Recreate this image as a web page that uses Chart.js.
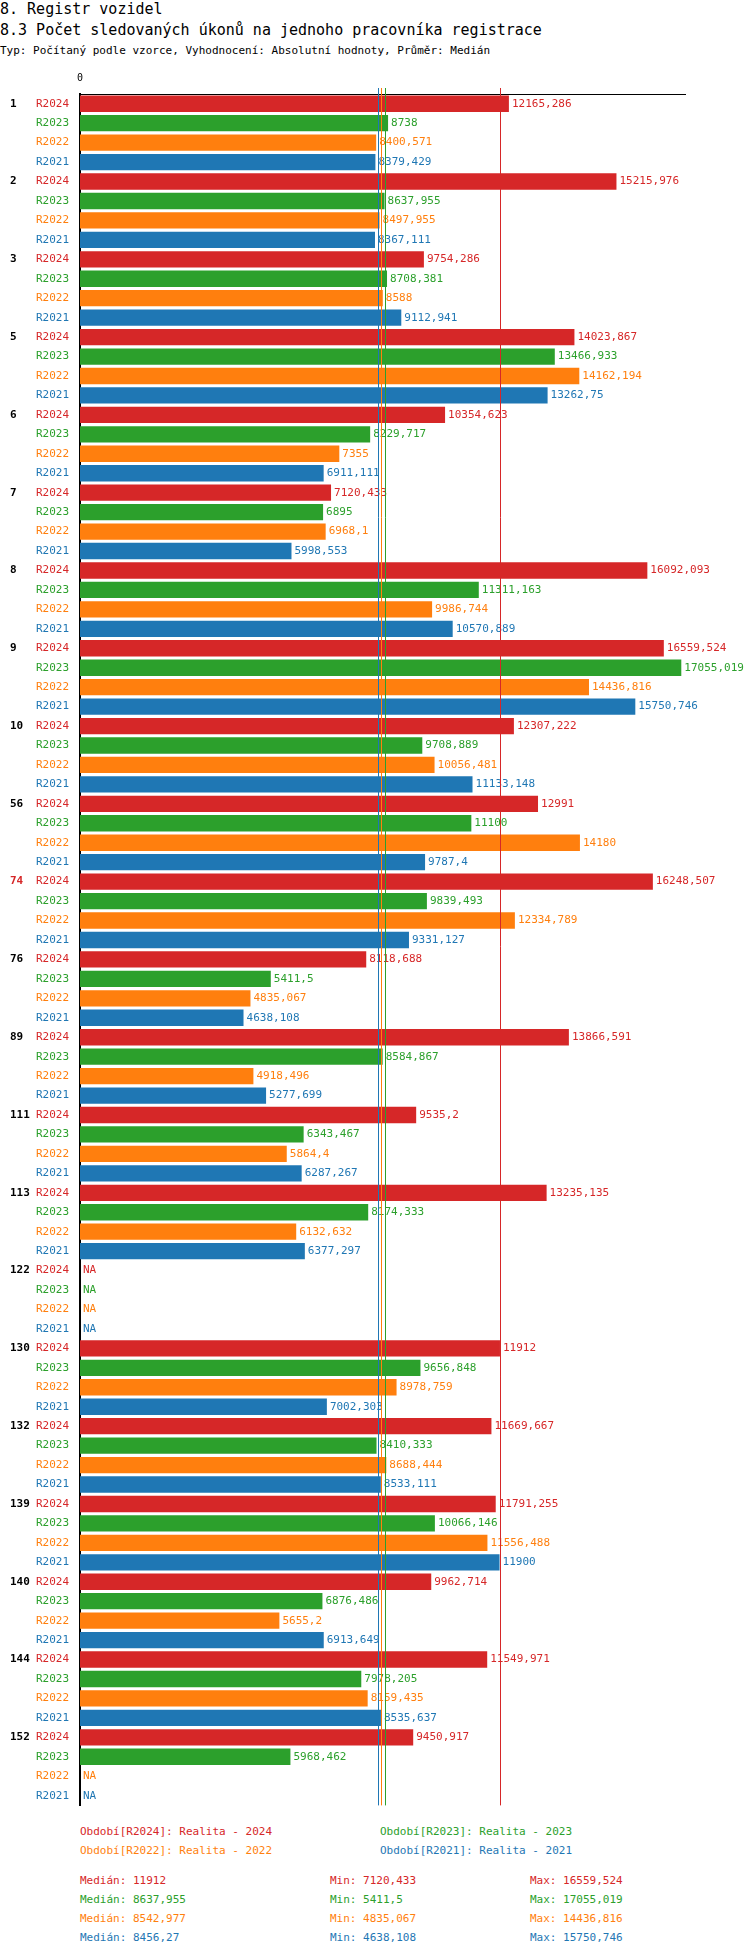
<!DOCTYPE html>
<html>
<head>
<meta charset="utf-8">
<script src="https://cdn.jsdelivr.net/npm/chart.js@4"></script>
<style>
  body { margin: 0; width: 750px; height: 1958px; position: relative; background: #fff; font-family: "DejaVu Sans Mono", monospace; }
  .t { position: absolute; left: 0; white-space: nowrap; color: #000; }
  .f { position: absolute; font-size: 11px; white-space: nowrap; }
  #wrap { position: absolute; left: 0; top: 70px; width: 750px; height: 1745px; }
</style>
</head>
<body>
<div class="t" style="top:0px;font-size:15px">8. Registr vozidel</div>
<div class="t" style="top:21px;font-size:15px">8.3 Počet sledovaných úkonů na jednoho pracovníka registrace</div>
<div class="t" style="top:44px;font-size:11px">Typ: Počítaný podle vzorce, Vyhodnocení: Absolutní hodnoty, Průměr: Medián</div>
<div id="wrap"><canvas id="graf"></canvas></div>
<div id="pie"></div>
<script>
const skupiny = ['1','2','3','5','6','7','8','9','10','56','74','76','89','111','113','122','130','132','139','140','144','152'];
const obdobi = ['R2024','R2023','R2022','R2021'];
const barvy = ['#d62728','#2ca02c','#ff7f0e','#1f77b4'];
const r2024 = [12165.286,15215.976,9754.286,14023.867,10354.623,7120.433,16092.093,16559.524,12307.222,12991,16248.507,8118.688,13866.591,9535.2,13235.135,null,11912,11669.667,11791.255,9962.714,11549.971,9450.917];
const r2023 = [8738,8637.955,8708.381,13466.933,8229.717,6895,11311.163,17055.019,9708.889,11100,9839.493,5411.5,8584.867,6343.467,8174.333,null,9656.848,8410.333,10066.146,6876.486,7978.205,5968.462];
const r2022 = [8400.571,8497.955,8588,14162.194,7355,6968.1,9986.744,14436.816,10056.481,14180,12334.789,4835.067,4918.496,5864.4,6132.632,null,8978.759,8688.444,11556.488,5655.2,8159.435,null];
const r2021 = [8379.429,8367.111,9112.941,13262.75,6911.111,5998.553,10570.889,15750.746,11133.148,9787.4,9331.127,4638.108,5277.699,6287.267,6377.297,null,7002.303,8533.111,11900,6913.649,8535.637,null];
const mediany = [11912, 8637.955, 8542.977, 8456.27];
const minima = [7120.433, 5411.5, 4835.067, 4638.108];
const maxima = [16559.524, 17055.019, 14436.816, 15750.746];
const popisky = ['Realita - 2024','Realita - 2023','Realita - 2022','Realita - 2021'];

const rady = [r2024, r2023, r2022, r2021];
const labels = [], hodnoty = [], barvyRadku = [];
skupiny.forEach((s, i) => {
    rady.forEach((r, j) => {
        labels.push(obdobi[j]);
        hodnoty.push(r[i]);
        barvyRadku.push(barvy[j]);
    });
});

const cislo = v => v === null ? 'NA' : String(Math.round(v * 1000) / 1000).replace('.', ',');
const FONT = '11px "DejaVu Sans Mono"';

const kresleni = {
    id: 'kresleni',
    afterDatasetsDraw(chart) {
        const ctx = chart.ctx, x = chart.scales.x, y = chart.scales.y, a = chart.chartArea;
        const meta = chart.getDatasetMeta(0);
        ctx.save();
        ctx.font = FONT;
        ctx.textBaseline = 'middle';
        // hodnoty za sloupci
        meta.data.forEach((bar, i) => {
            ctx.fillStyle = barvyRadku[i];
            const px = hodnoty[i] === null ? x.getPixelForValue(0) : bar.x;
            ctx.fillText(cislo(hodnoty[i]), px + 3, y.getPixelForValue(i));
        });
        // medianove cary
        mediany.forEach((m, j) => {
            const px = Math.round(x.getPixelForValue(m)) + 0.5;
            ctx.strokeStyle = barvy[j];
            ctx.lineWidth = 1;
            ctx.beginPath();
            ctx.moveTo(px, a.top - 6);
            ctx.lineTo(px, a.bottom);
            ctx.stroke();
        });
        // cisla skupin
        ctx.font = 'bold 11px "DejaVu Sans Mono"';
        skupiny.forEach((s, i) => {
            ctx.fillStyle = s === '74' ? '#d62728' : '#000';
            ctx.fillText(s, 10, y.getPixelForValue(i * 4));
        });
        ctx.restore();
    }
};

new Chart(document.getElementById('graf'), {
    type: 'bar',
    data: {
        labels: labels,
        datasets: [{
            data: hodnoty,
            backgroundColor: barvyRadku,
            barPercentage: 0.84,
            categoryPercentage: 1
        }]
    },
    options: {
        indexAxis: 'y',
        responsive: true,
        maintainAspectRatio: false,
        animation: false,
        layout: { padding: { top: 0, right: 65, bottom: 5, left: 0 } },
        plugins: { legend: { display: false }, tooltip: { enabled: false } },
        scales: {
            x: {
                position: 'top',
                min: 0,
                max: 17160,
                grid: { display: false },
                border: { display: true, color: '#000', width: 1 },
                ticks: {
                    color: '#000',
                    font: { family: 'DejaVu Sans Mono', size: 10 },
                    padding: 2,
                    stepSize: 17160,
                    callback: v => v === 0 ? '0' : ''
                }
            },
            y: {
                grid: { display: false },
                border: { display: true, color: '#000', width: 2 },
                afterFit: s => { s.width = 80; },
                ticks: {
                    autoSkip: false,
                    padding: 3,
                    font: { family: 'DejaVu Sans Mono', size: 11 },
                    color: c => barvyRadku[c.index]
                }
            }
        }
    },
    plugins: [kresleni]
});

// legenda a statistiky
const pie = document.getElementById('pie');
const pridej = (text, left, top, color) => {
    const d = document.createElement('div');
    d.className = 'f';
    d.style.left = left + 'px';
    d.style.top = top + 'px';
    d.style.color = color;
    d.textContent = text;
    pie.appendChild(d);
};
obdobi.forEach((o, j) => {
    pridej('Období[' + o + ']: ' + popisky[j], j % 2 ? 380 : 80, j < 2 ? 1825 : 1844, barvy[j]);
    pridej('Medián: ' + cislo(mediany[j]), 80, 1874 + j * 19, barvy[j]);
    pridej('Min: ' + cislo(minima[j]), 330, 1874 + j * 19, barvy[j]);
    pridej('Max: ' + cislo(maxima[j]), 530, 1874 + j * 19, barvy[j]);
});
</script>
</body>
</html>
